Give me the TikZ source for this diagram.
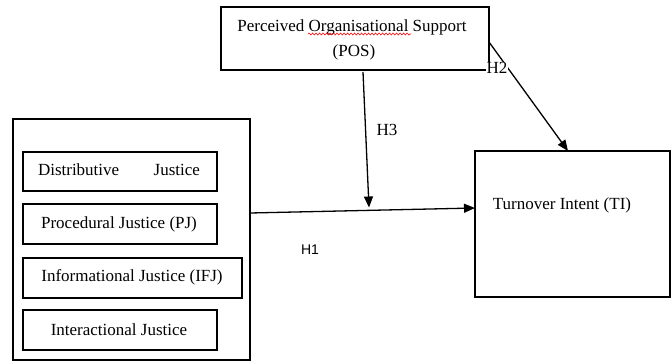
\documentclass[tikz,border=0pt]{standalone}
\usepackage{fontspec}
\setmainfont{Liberation Serif}
\newfontfamily\arialf{Liberation Sans}
\usetikzlibrary{arrows.meta,decorations.pathmorphing}
\begin{document}
\begin{tikzpicture}[x=1pt,y=-1pt,
  boxx/.style={draw=black,line width=1.3pt,rectangle,inner sep=0pt},
  lbl/.style={font=\fontsize{17}{25}\selectfont,inner sep=0pt},
  conn/.style={line width=1.3pt,-{Triangle[length=11pt,width=9pt]}}]
\useasboundingbox (0,0) rectangle (672,361);
% boxes
\node[boxx,minimum width=268pt,minimum height=63pt] (pos) at (355,38.5) {};
\node[boxx,minimum width=195pt,minimum height=146pt] (ti) at (572.5,224) {};
\node[boxx,minimum width=237pt,minimum height=241pt] (oj) at (131.5,239.5) {};
\node[boxx,minimum width=194pt,minimum height=39pt] (dj) at (120,171.5) {};
\node[boxx,minimum width=194pt,minimum height=40pt] (pj) at (120,224) {};
\node[boxx,minimum width=219pt,minimum height=40pt] (ifj) at (132.5,278) {};
\node[boxx,minimum width=194pt,minimum height=40pt] (ij) at (120,330) {};
% texts
\node[lbl,align=center] (posl1) at (352,27) {Perceived Organisational Support};
\node[lbl] (posl2) at (354,52) {(POS)};
\draw[red,line width=0.6pt,decorate,decoration={snake,amplitude=1pt,segment length=3.5pt}] (308,34) -- (411,34);
\node[lbl] (til) at (562,205) {Turnover Intent (TI)};
\node[lbl] (djl) at (119,170) {\hbox to 162pt{Distributive\hfill Justice}};
\node[lbl] (pjl) at (119,224) {Procedural Justice (PJ)};
\node[lbl] (ifjl) at (132,277) {Informational Justice (IFJ)};
\node[lbl] (ijl) at (119,330) {Interactional Justice};
% connectors
\coordinate (h1s) at (250,213);
\coordinate (h1e) at (475,208);
\coordinate (h3s) at (363,72);
\coordinate (h3e) at (369,207.5);
\coordinate (h2s) at (489,42);
\coordinate (h2e) at (568,151);
\draw[conn] (h1s) -- (h1e);
\draw[conn] (h3s) -- (h3e);
\draw[conn] (h2s) -- (h2e);
\node[lbl] (h3) at (387,130) {H3};
\node[lbl,fill=white,inner sep=0.5pt] (h2) at (497,68) {H2};
\node[font=\arialf\fontsize{14}{16}\selectfont,inner sep=0pt] (h1) at (310,250) {H1};
\end{tikzpicture}
\end{document}
